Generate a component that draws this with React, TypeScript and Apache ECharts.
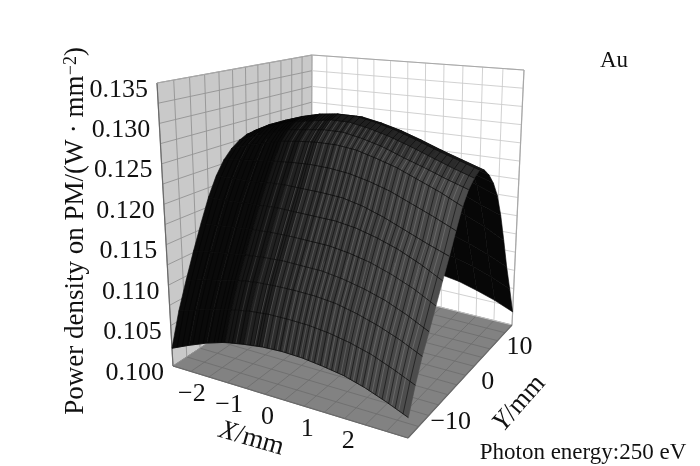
import React, { useEffect, useRef } from "react";
import * as echarts from "echarts";

const FONT = "Liberation Serif";
const zTicks = ["0.100", "0.105", "0.110", "0.115", "0.120", "0.125", "0.130", "0.135"];
const zTickValues = [0.1, 0.105, 0.11, 0.115, 0.12, 0.125, 0.13, 0.135];
const xTicks = [-2, -1, 0, 1, 2];
const yTicks = [-10, 0, 10];
const xNodes = [-3, -2.5, -2, -1.5, -1, -0.5, 0, 0.5, 1, 1.5, 2, 2.5, 3];
const yNodes = [-15, -13.5, -12, -10.5, -9, -7.5, -6, -4.5, -3, -1.5, 0, 1.5, 3, 4.5, 6, 7.5, 9, 10.5, 12, 13.5, 15];
const xGrid = [-3, -2.5, -2, -1.5, -1, -0.5, 0, 0.5, 1, 1.5, 2, 2.5, 3];
const yGrid = [-15, -12.5, -10, -7.5, -5, -2.5, 0, 2.5, 5, 7.5, 10, 12.5, 15];
const zGrid = [0.1, 0.1025, 0.105, 0.1075, 0.11, 0.1125, 0.115, 0.1175, 0.12, 0.1225, 0.125, 0.1275, 0.13, 0.1325, 0.135];
// power density: one row per yNodes entry, one column per xNodes entry
const densityRows = [
  [0.1022, 0.1032, 0.1041, 0.1048, 0.1052, 0.1055, 0.1056, 0.1055, 0.1052, 0.1048, 0.1041, 0.1032, 0.1022],
  [0.1062, 0.1069, 0.1076, 0.1081, 0.1085, 0.1087, 0.1087, 0.1086, 0.1083, 0.1078, 0.1071, 0.1061, 0.105],
  [0.1095, 0.1101, 0.1106, 0.1111, 0.1114, 0.1115, 0.1115, 0.1114, 0.1111, 0.1105, 0.1097, 0.1087, 0.1075],
  [0.1127, 0.1131, 0.1134, 0.1137, 0.1139, 0.114, 0.1139, 0.1138, 0.1134, 0.1128, 0.112, 0.1109, 0.1096],
  [0.1158, 0.116, 0.1162, 0.1164, 0.1165, 0.1165, 0.1164, 0.1163, 0.1159, 0.1153, 0.1144, 0.1133, 0.1119],
  [0.1188, 0.1188, 0.1189, 0.119, 0.1191, 0.119, 0.1189, 0.1188, 0.1184, 0.1177, 0.1168, 0.1156, 0.1142],
  [0.1212, 0.1213, 0.1213, 0.1215, 0.1216, 0.1215, 0.1214, 0.1212, 0.1206, 0.1197, 0.1186, 0.1175, 0.1165],
  [0.123, 0.1234, 0.1236, 0.1239, 0.1241, 0.1242, 0.1241, 0.1238, 0.1232, 0.1224, 0.1213, 0.1202, 0.119],
  [0.1242, 0.125, 0.1256, 0.1262, 0.1265, 0.1267, 0.1267, 0.1264, 0.1257, 0.1249, 0.1238, 0.1227, 0.1214],
  [0.125, 0.1259, 0.1267, 0.1274, 0.1277, 0.128, 0.128, 0.1275, 0.1268, 0.1258, 0.1249, 0.1239, 0.123],
  [0.1255, 0.1266, 0.1275, 0.1282, 0.1286, 0.129, 0.129, 0.1285, 0.1278, 0.1269, 0.1259, 0.1249, 0.124],
  [0.1257, 0.1269, 0.1278, 0.1286, 0.1292, 0.1295, 0.1295, 0.129, 0.1283, 0.1274, 0.1264, 0.1255, 0.1246],
  [0.125, 0.1263, 0.1273, 0.1281, 0.1287, 0.129, 0.1291, 0.1286, 0.1279, 0.127, 0.126, 0.1251, 0.1242],
  [0.1238, 0.1251, 0.1262, 0.1271, 0.1277, 0.128, 0.1281, 0.1276, 0.1269, 0.126, 0.125, 0.1241, 0.1232],
  [0.1222, 0.1236, 0.1247, 0.1256, 0.1262, 0.1266, 0.1267, 0.1262, 0.1255, 0.1246, 0.1236, 0.1227, 0.1218],
  [0.1198, 0.1213, 0.1225, 0.1235, 0.1242, 0.1246, 0.1247, 0.1245, 0.1239, 0.123, 0.1219, 0.1208, 0.1198],
  [0.1168, 0.1183, 0.1195, 0.1205, 0.1212, 0.1216, 0.1217, 0.1215, 0.1209, 0.12, 0.1189, 0.1178, 0.1168],
  [0.113, 0.1144, 0.1155, 0.1164, 0.117, 0.1174, 0.1175, 0.1174, 0.117, 0.1164, 0.1155, 0.1144, 0.113],
  [0.109, 0.1102, 0.1112, 0.112, 0.1126, 0.1129, 0.113, 0.1129, 0.1126, 0.112, 0.1112, 0.1102, 0.109],
  [0.1055, 0.1066, 0.1075, 0.1082, 0.1087, 0.109, 0.1091, 0.109, 0.1087, 0.1082, 0.1075, 0.1066, 0.1055],
  [0.1018, 0.1028, 0.1036, 0.1043, 0.1047, 0.105, 0.1051, 0.105, 0.1047, 0.1043, 0.1036, 0.1028, 0.1018],
];
const lightStreaks = [-1.2, -0.92, -0.7, -0.48, -0.3, -0.12, 0.04, 0.18, 0.33, 0.46, 0.6, 0.72, 0.86, 1.02, 1.15, 1.28, 1.44, 1.6, 1.73, 1.88, 2.02, 2.17, 2.31, 2.48, 2.62, 2.78];
const darkStreaks = [-2.85, -2.7, -2.55, -2.4, -2.25, -2.1, -1.95, -1.8, -1.7, -1.6, -1.5, -1.4, -1.3, -1.2, -1.1, -1, -0.92, -0.82, -0.72, -0.64, -0.58, -0.5, -0.38, -0.2, -0.05, 0.1, 0.26, 0.4, 0.53, 0.66, 0.8, 0.95, 1.1, 1.22, 1.36, 1.52, 1.66, 1.8, 1.95, 2.1, 2.25, 2.4, 2.55, 2.7, 2.88];

const floorQuad = [[173, 366], [408, 438], [512, 325], [311, 275]];
const topQuad = [[157, 83], [413, 113], [524, 70], [312, 55]];

function homography(q: number[][]) {
  const [[x0, y0], [x1, y1], [x2, y2], [x3, y3]] = q;
  const dx1 = x1 - x2, dx2 = x3 - x2, sx = x0 - x1 + x2 - x3;
  const dy1 = y1 - y2, dy2 = y3 - y2, sy = y0 - y1 + y2 - y3;
  const den = dx1 * dy2 - dx2 * dy1;
  const g = (sx * dy2 - dx2 * sy) / den;
  const h = (dx1 * sy - sx * dy1) / den;
  const a = x1 - x0 + g * x1, b = x3 - x0 + h * x3;
  const d = y1 - y0 + g * y1, e = y3 - y0 + h * y3;
  return (u: number, v: number) => {
    const w = g * u + h * v + 1;
    return [(a * u + b * v + x0) / w, (d * u + e * v + y0) / w];
  };
}
const floorMap = homography(floorQuad);
const topMap = homography(topQuad);
function project(X: number, Y: number, z: number) {
  const u = (X + 3) / 6, v = (Y + 15) / 30, w = (z - 0.1) / 0.035;
  const p = floorMap(u, v), t = topMap(u, v);
  return [p[0] + (t[0] - p[0]) * w, p[1] + (t[1] - p[1]) * w];
}
const density = (i: number, k: number) => densityRows[k][i];
function densityAt(X: number, k: number) {
  const f = (X + 3) / 0.5;
  const i = Math.min(11, Math.floor(f));
  const t = f - i;
  return density(i, k) * (1 - t) + density(i + 1, k) * t;
}

function quadColor(i: number, k: number, front: boolean) {
  if (!front) return "#070707";
  const s = (i + 0.5) / 12;
  let b = s < 0.2 ? 10 : s < 0.5 ? 10 + (s - 0.2) * 130 : 49 + (s - 0.5) * 60;
  const rf = k <= 8 ? 1 : k === 9 ? 0.85 : k === 10 ? 0.6 : k === 11 ? 0.3 : 0.12;
  b = Math.round(b * rf);
  return `rgb(${b},${b},${b})`;
}

export default function App() {
  const ref = useRef<HTMLDivElement>(null);
  useEffect(() => {
    const chart = echarts.init(ref.current!, undefined, { renderer: "svg" });
    const pt = (api: any, X: number, Y: number, z: number) => api.coord(project(X, Y, z));

    const segments: number[][] = [];
    xGrid.forEach((x) => {
      segments.push([x, -15, 0.1, x, 15, 0.1, 2]);
      segments.push([x, 15, 0.1, x, 15, 0.135, 1]);
    });
    yGrid.forEach((y) => {
      segments.push([-3, y, 0.1, 3, y, 0.1, 2]);
      segments.push([-3, y, 0.1, -3, y, 0.135, 0]);
    });
    zGrid.forEach((z) => {
      segments.push([-3, -15, z, -3, 15, z, 0]);
      segments.push([-3, 15, z, 3, 15, z, 1]);
    });
    const kinds = ["#939393", "#cccccc", "#6e6e6e", "#a8a8a8", "#6a6a6a"];
    segments.push([-3, -15, 0.1, -3, -15, 0.135, 4]);
    segments.push([-3, -15, 0.135, -3, 15, 0.135, 3]);
    segments.push([-3, 15, 0.135, 3, 15, 0.135, 3]);
    segments.push([3, 15, 0.1, 3, 15, 0.135, 3]);
    segments.push([-3, -15, 0.1, 3, -15, 0.1, 4]);
    segments.push([3, -15, 0.1, 3, 15, 0.1, 4]);

    const quads: number[][] = [];
    for (let k = yNodes.length - 2; k >= 0; k--)
      for (let i = 0; i < xNodes.length - 1; i++) quads.push([i, k]);

    const streaks = [
      ...darkStreaks.map((x) => [x, 0]),
      ...lightStreaks.map((x) => [x, 1]),
    ];
    const arcs = yNodes.slice(0, 12).map((_, k) => [k, 0]);

    const text = (x: number, y: number, s: string, size: number, extra: any = {}) => ({
      type: "text",
      x,
      y,
      silent: true,
      style: { text: s, fill: "#111", fontFamily: FONT, fontSize: size, textAlign: "center", textVerticalAlign: "middle", verticalAlign: "middle", ...extra },
    });

    chart.setOption({
      animation: false,
      backgroundColor: "#fff",
      grid: { left: 0, top: 0, width: 700, height: 466 },
      xAxis: { type: "value", min: 0, max: 700, show: false },
      yAxis: { type: "value", min: 0, max: 466, inverse: true, show: false },
      series: [
        {
          type: "custom",
          clip: false,
          data: [[0, 0], [1, 0], [2, 0]],
          renderItem: (_: any, api: any) => {
            const n = api.value(0);
            const c = n === 0
              ? [[-3, -15, 0.1], [-3, 15, 0.1], [-3, 15, 0.135], [-3, -15, 0.135]]
              : n === 1
              ? [[-3, 15, 0.1], [3, 15, 0.1], [3, 15, 0.135], [-3, 15, 0.135]]
              : [[-3, -15, 0.1], [3, -15, 0.1], [3, 15, 0.1], [-3, 15, 0.1]];
            return {
              type: "polygon",
              shape: { points: c.map((p) => pt(api, p[0], p[1], p[2])) },
              style: { fill: ["#c9c9c9", "#ffffff", "#828282"][n] },
            };
          },
        },
        {
          type: "custom",
          clip: false,
          data: segments,
          renderItem: (_: any, api: any) => {
            const a = pt(api, api.value(0), api.value(1), api.value(2));
            const b = pt(api, api.value(3), api.value(4), api.value(5));
            return {
              type: "line",
              shape: { x1: a[0], y1: a[1], x2: b[0], y2: b[1] },
              style: { stroke: kinds[api.value(6)], lineWidth: api.value(6) >= 3 ? 1.2 : 0.9, fill: "none" },
            };
          },
        },
        {
          type: "custom",
          clip: false,
          data: quads,
          renderItem: (_: any, api: any) => {
            const i = api.value(0), k = api.value(1);
            const pts = [
              pt(api, xNodes[i], yNodes[k], density(i, k)),
              pt(api, xNodes[i + 1], yNodes[k], density(i + 1, k)),
              pt(api, xNodes[i + 1], yNodes[k + 1], density(i + 1, k + 1)),
              pt(api, xNodes[i], yNodes[k + 1], density(i, k + 1)),
            ];
            let area = 0;
            pts.forEach((p, n) => {
              const q = pts[(n + 1) % 4];
              area += p[0] * q[1] - q[0] * p[1];
            });
            const col = quadColor(i, k, area < 0);
            return { type: "polygon", shape: { points: pts }, style: { fill: col, stroke: col, lineWidth: 0.6 } };
          },
        },
        {
          type: "custom",
          clip: false,
          data: streaks,
          renderItem: (_: any, api: any) => {
            const x = api.value(0), light = api.value(1);
            const pts: number[][] = [];
            for (let k = 0; k <= (light ? 10 : 11); k++) pts.push(pt(api, x, yNodes[k], densityAt(x, k)));
            return {
              type: "polyline",
              shape: { points: pts },
              style: { stroke: light ? "rgba(255,255,255,0.2)" : "rgba(0,0,0,0.5)", lineWidth: light ? 0.8 : 1, fill: "none" },
            };
          },
        },
        {
          type: "custom",
          clip: false,
          data: arcs,
          renderItem: (_: any, api: any) => {
            const k = api.value(0);
            return {
              type: "polyline",
              shape: { points: xNodes.map((x, i) => pt(api, x, yNodes[k], density(i, k))) },
              style: { stroke: "rgba(10,10,10,0.75)", lineWidth: 1, fill: "none" },
            };
          },
        },
        {
          type: "custom",
          clip: false,
          data: zTickValues.map((z) => [z, 0]),
          renderItem: (p: any, api: any) => {
            const a = pt(api, -3, -15, api.value(0));
            return text(a[0] - 9, a[1] + 5, zTicks[p.dataIndex], 26, { textAlign: "right" });
          },
        },
        {
          type: "custom",
          clip: false,
          data: xTicks.map((x) => [x, 0]),
          renderItem: (p: any, api: any) => {
            const x = api.value(0);
            const a = pt(api, x, -15, 0.1);
            return text(a[0] - 17, a[1] + 15, String(x).replace("-", "\u2212"), 26);
          },
        },
        {
          type: "custom",
          clip: false,
          data: yTicks.map((y) => [y, 0]),
          renderItem: (p: any, api: any) => {
            const y = api.value(0);
            const a = pt(api, 3, y, 0.1);
            return text(a[0] + 22, a[1] + 5, String(y).replace("-", "\u2212"), 26);
          },
        },
      ],
      graphic: [
        {
          type: "text", x: 74, y: 231, rotation: Math.PI / 2, silent: true,
          style: {
            text: "{a|Power density on PM/(W · mm}{b|\u22122}{a|)}",
            fontFamily: FONT, fill: "#111", textAlign: "center", textVerticalAlign: "middle", verticalAlign: "middle",
            rich: {
              a: { fontFamily: FONT, fontSize: 27, fill: "#111" },
              b: { fontFamily: FONT, fontSize: 18, fill: "#111", verticalAlign: "top" },
            },
          },
        },
        {
          type: "text", x: 252, y: 437, rotation: -0.28, silent: true,
          style: {
            text: "{i|X}{a|/mm}", textAlign: "center", textVerticalAlign: "middle", verticalAlign: "middle",
            rich: { i: { fontFamily: FONT, fontSize: 27, fontStyle: "italic", fill: "#111" }, a: { fontFamily: FONT, fontSize: 27, fill: "#111" } },
          },
        },
        {
          type: "text", x: 518, y: 402, rotation: 0.85, silent: true,
          style: {
            text: "{i|Y}{a|/mm}", textAlign: "center", textVerticalAlign: "middle", verticalAlign: "middle",
            rich: { i: { fontFamily: FONT, fontSize: 27, fontStyle: "italic", fill: "#111" }, a: { fontFamily: FONT, fontSize: 27, fill: "#111" } },
          },
        },
        { ...text(614, 59, "Au", 23) },
        { ...text(583, 451, "Photon energy:250 eV", 23) },
      ],
    });
    return () => chart.dispose();
  }, []);
  return <div ref={ref} style={{ position: "fixed", left: 0, top: 0, width: 700, height: 466, filter: "blur(0.4px)" }} />;
}
